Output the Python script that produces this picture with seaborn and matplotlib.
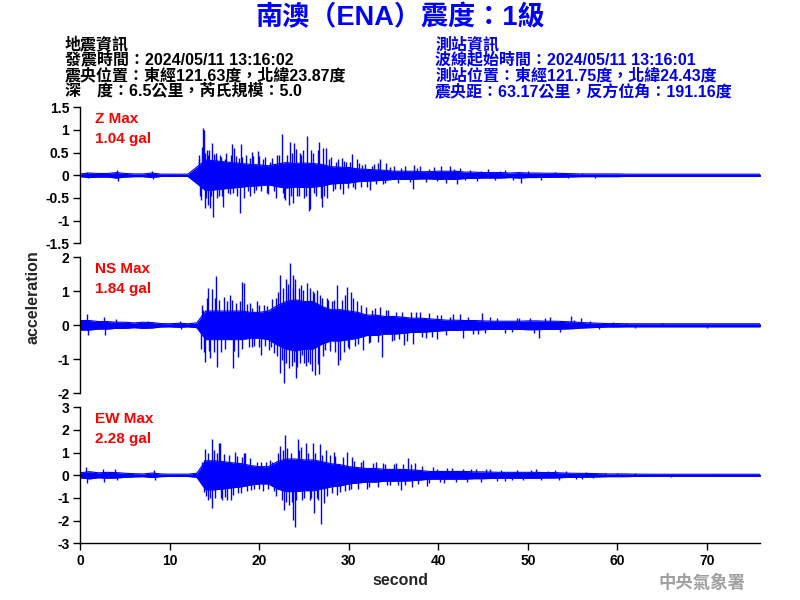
import matplotlib.pyplot as plt
import numpy as np
import seaborn as sns

BLUE = "#0000FF"

# time grid (s) for the dense part of each trace
SECONDS = np.arange(0, 77)

# Z component: dense-band half width per second, big peaks and minor peaks (s, gal)
Z_BODY = [0.03, 0.05, 0.04, 0.04, 0.06, 0.04, 0.03, 0.03, 0.05, 0.025,
          0.025, 0.025, 0.025, 0.18, 0.34, 0.32, 0.30, 0.28, 0.26, 0.24,
          0.23, 0.21, 0.25, 0.28, 0.26, 0.27, 0.26, 0.24, 0.19, 0.18,
          0.17, 0.14, 0.13, 0.12, 0.11, 0.09, 0.09, 0.09, 0.08, 0.08,
          0.09, 0.09, 0.09, 0.07, 0.07, 0.06, 0.06, 0.06, 0.05, 0.06,
          0.05, 0.05, 0.045, 0.045, 0.04, 0.035, 0.03, 0.03, 0.03, 0.03,
          0.03, 0.025, 0.025, 0.025, 0.025, 0.025, 0.025, 0.025, 0.025, 0.025,
          0.025, 0.025, 0.025, 0.025, 0.025, 0.025, 0.025]
Z_PEAK_T = [0.7, 0.8, 4.1, 4.2, 8.0, 8.1,
            13.3, 13.5, 13.6, 13.73, 13.85, 13.9, 14.1, 14.2, 14.4, 14.5, 14.7, 14.86,
            15.1, 15.3, 15.6, 15.97, 16.3, 16.5, 16.98, 17.2, 17.5, 17.84, 17.9, 18.3,
            18.5, 18.9, 19.15, 19.4, 19.8, 20.2, 20.6, 21.0, 21.4, 21.8, 22.0, 22.5,
            22.6, 22.9, 23.25, 23.4, 23.6, 23.8, 23.9, 24.1, 24.4, 24.7, 25.0, 25.37,
            25.5, 25.7, 26.0, 26.3, 26.7, 26.97, 27.1, 27.4, 27.6, 28.0, 28.4, 28.8,
            29.2, 29.3, 29.7, 30.3, 30.5, 30.9, 31.3, 31.8, 32.4, 32.8, 33.5, 33.8,
            34.2, 35.0, 35.5, 36.3, 37.2, 37.3, 38.0, 38.6, 39.5, 40.3, 40.8, 41.3,
            42.1, 42.4, 43.5, 44.3, 45.5, 46.3, 47.5, 49.2, 50.0, 51.5, 53.0, 54.5,
            56.0, 57.5]
Z_PEAK_V = [0.08, -0.07, 0.12, -0.12, 0.10, -0.08,
            0.45, -0.55, 0.62, 1.04, 1.00, -0.73, 0.55, -0.65, 0.55, -0.72, 0.71, -0.91,
            0.50, -0.50, 0.45, -0.71, 0.50, -0.40, 0.70, 0.60, -0.45, -0.83, 0.68, -0.50,
            0.45, -0.45, 0.51, -0.40, 0.54, -0.35, 0.40, -0.42, 0.38, -0.50, 0.45, 0.92,
            -0.38, -0.55, -0.66, 0.73, 0.50, -0.62, 0.71, 0.57, -0.45, 0.45, -0.50, 0.86,
            -0.78, -0.75, 0.50, -0.45, 0.73, -0.69, 0.60, 0.60, -0.51, 0.40, -0.30, 0.35,
            0.38, -0.41, 0.30, 0.48, -0.25, 0.35, -0.25, 0.25, -0.32, 0.25, 0.37, -0.20,
            0.27, 0.20, -0.18, 0.20, -0.31, 0.22, 0.20, -0.15, 0.18, 0.20, -0.18, 0.20,
            -0.20, 0.17, 0.12, -0.12, 0.13, -0.10, 0.12, -0.16, 0.10, -0.10, 0.08, -0.07,
            0.06, -0.05]
Z_MINOR_T = [13.2, 13.4, 13.95, 14.05, 14.3, 14.6, 14.95, 15.2, 15.45, 15.75,
             15.85, 16.1, 16.7, 16.85, 17.1, 17.35, 17.7, 18.1, 18.7, 19.0,
             19.3, 19.6, 20.0, 20.4, 20.8, 21.2, 21.6, 22.2, 22.75, 23.1,
             23.5, 24.2, 24.55, 24.9, 25.2, 25.8, 26.1, 26.5, 26.85, 27.25,
             27.8, 28.2, 28.6, 29.0, 29.5, 29.9, 30.1, 30.7, 31.1, 31.5,
             32.0, 32.6, 33.0, 33.2, 34.0, 34.6, 35.8, 36.8, 37.6, 39.0,
             39.8, 41.8, 43.0, 44.8, 46.9, 48.3]
Z_MINOR_V = [0.35, -0.45, 0.50, -0.50, 0.45, -0.45, 0.48, 0.42, -0.45, 0.40,
             -0.45, 0.35, -0.42, 0.45, -0.40, 0.42, 0.38, 0.40, -0.35, 0.38,
             0.42, -0.32, 0.42, 0.35, -0.38, 0.30, -0.35, 0.45, -0.50, 0.45,
             -0.45, -0.45, 0.50, 0.55, -0.45, 0.55, -0.40, 0.55, -0.50, -0.45,
             0.35, -0.35, 0.30, -0.30, 0.32, -0.28, 0.30, -0.30, 0.28, 0.22,
             -0.25, 0.20, -0.20, 0.28, -0.18, 0.18, 0.15, -0.15, 0.15, 0.14,
             -0.13, 0.13, -0.10, 0.10, 0.10, -0.10]

# NS component
NS_BODY = [0.14, 0.14, 0.11, 0.11, 0.09, 0.09, 0.07, 0.09, 0.08, 0.05,
           0.045, 0.06, 0.045, 0.07, 0.42, 0.42, 0.42, 0.42, 0.42, 0.38,
           0.38, 0.42, 0.58, 0.70, 0.75, 0.70, 0.70, 0.55, 0.46, 0.46,
           0.42, 0.38, 0.30, 0.30, 0.26, 0.26, 0.24, 0.21, 0.21, 0.19,
           0.17, 0.15, 0.15, 0.14, 0.14, 0.13, 0.12, 0.12, 0.12, 0.12,
           0.13, 0.13, 0.12, 0.12, 0.11, 0.10, 0.08, 0.07, 0.06, 0.05,
           0.05, 0.045, 0.045, 0.045, 0.045, 0.045, 0.045, 0.045, 0.045, 0.045,
           0.045, 0.045, 0.045, 0.045, 0.045, 0.045, 0.045]
NS_PEAK_T = [0.7, 0.8, 2.6, 2.7, 4.0, 7.5, 11.1, 11.2,
             13.5, 13.7, 13.93, 14.3, 14.5, 14.7, 15.2, 15.3, 16.0, 16.7, 17.0, 17.66,
             18.03, 18.3, 18.6, 19.15, 19.2, 19.7, 20.2, 20.8, 21.1, 21.4, 21.6, 22.06,
             22.25, 22.3, 22.5, 22.8, 22.95, 23.15, 23.3, 23.44, 23.8, 23.85, 24.0, 24.1,
             24.25, 24.64, 24.75, 25.0, 25.3, 25.4, 25.9, 26.0, 26.2, 26.4, 26.7, 26.95,
             27.3, 27.7, 28.3, 28.7, 28.8, 29.0, 29.8, 29.95, 30.2, 30.5, 30.9, 31.6,
             32.2, 32.6, 33.5, 33.7, 34.1, 35.0, 35.9, 36.2, 36.9, 37.2, 37.9, 38.6,
             39.8, 39.9, 41.6, 42.4, 42.8, 44.4, 44.9, 45.8, 47.5, 49.0, 51.3, 52.5,
             54.8, 55.9, 58.0, 61.0]
NS_PEAK_V = [0.33, -0.28, 0.25, -0.30, 0.18, 0.14, 0.12, -0.10,
             -0.70, 0.45, -1.07, 1.10, -0.97, 1.06, 1.45, -1.22, 0.84, 0.89, -1.26, -0.92,
             1.28, 1.25, 0.62, 0.50, -0.63, 0.70, -0.87, 0.57, -0.73, 0.76, -0.82, 0.99,
             -1.41, 1.48, -1.02, -1.69, 1.35, 0.94, -1.26, 1.84, 1.48, -1.07, 1.35, -1.56,
             -1.22, 1.19, -0.87, -1.12, 1.24, -1.07, -1.33, 1.02, -1.46, 1.04, -1.43, 0.79,
             -0.73, 0.75, 0.75, 1.19, -1.17, -1.02, 1.14, -0.63, 0.99, 0.79, 0.70, -0.73,
             -0.53, 0.45, 0.55, -0.92, 0.45, -0.43, 0.38, -0.58, 0.40, -0.56, 0.40, -0.38,
             -0.41, 0.30, 0.32, 0.32, -0.38, -0.25, 0.37, 0.25, -0.22, 0.22, -0.38, 0.25,
             0.27, 0.20, -0.12, 0.08]
NS_MINOR_T = [13.6, 13.8, 14.1, 14.4, 14.9, 15.0, 15.5, 15.7, 16.2, 16.4,
              16.9, 17.2, 17.4, 17.8, 18.1, 18.8, 19.0, 19.4, 19.9, 20.0,
              20.5, 20.6, 21.3, 21.8, 22.0, 22.6, 22.7, 23.0, 23.2, 23.6,
              23.7, 24.4, 24.5, 24.9, 25.15, 25.6, 25.7, 26.1, 26.55, 26.8,
              27.1, 27.5, 27.9, 28.1, 28.5, 29.2, 29.4, 29.6, 30.0, 30.7,
              31.0, 31.3, 31.9, 32.4, 32.9, 33.2, 34.4, 34.8, 35.3, 35.6,
              36.5, 37.5, 38.2, 38.9, 39.3, 40.3, 40.9, 41.3, 43.3, 43.9,
              45.2, 46.5, 48.2, 48.8, 50.2, 50.7, 51.9, 53.6, 55.2, 57.0,
              59.5, 62.0, 65.0, 70.0]
NS_MINOR_V = [0.60, -0.80, 0.80, -0.75, -0.80, 0.80, 0.75, -0.80, -0.70, 0.70,
              0.75, -0.75, 0.65, 0.70, -0.70, -0.65, 0.65, -0.60, 0.60, -0.65,
              0.60, -0.60, -0.65, 0.80, -0.90, 1.10, -1.15, -1.10, 1.20, -1.20,
              1.10, 1.10, -1.10, 1.05, -1.20, 1.10, -1.15, 0.95, -1.15, 0.90,
              -0.90, 0.80, -0.75, 0.70, -0.80, 0.75, -0.80, 0.90, -0.70, -0.60,
              -0.55, 0.60, 0.55, -0.50, 0.50, -0.50, 0.45, -0.45, 0.40, -0.40,
              -0.45, 0.38, -0.35, 0.35, -0.35, 0.30, -0.30, 0.25, 0.25, -0.25,
              -0.22, 0.22, -0.20, 0.22, 0.22, -0.22, 0.20, -0.20, 0.15, 0.12,
              0.10, -0.08, 0.08, -0.07]

# EW component
EW_BODY = [0.11, 0.16, 0.11, 0.13, 0.12, 0.09, 0.07, 0.06, 0.10, 0.06,
           0.05, 0.05, 0.05, 0.09, 0.64, 0.64, 0.60, 0.55, 0.51, 0.43,
           0.38, 0.38, 0.60, 0.72, 0.72, 0.68, 0.68, 0.60, 0.51, 0.47,
           0.38, 0.34, 0.30, 0.30, 0.26, 0.26, 0.26, 0.24, 0.21, 0.17,
           0.17, 0.17, 0.17, 0.17, 0.15, 0.15, 0.14, 0.13, 0.13, 0.13,
           0.13, 0.13, 0.12, 0.12, 0.10, 0.09, 0.085, 0.08, 0.07, 0.06,
           0.06, 0.06, 0.05, 0.05, 0.045, 0.045, 0.045, 0.045, 0.045, 0.045,
           0.045, 0.045, 0.045, 0.045, 0.045, 0.045, 0.045]
EW_PEAK_T = [0.6, 0.7, 2.5, 2.6, 3.9, 4.1, 8.2, 8.3,
             13.75, 13.8, 13.93, 14.3, 14.7, 14.75, 15.5, 15.6, 15.8, 16.35, 16.8, 17.3,
             17.6, 18.3, 18.4, 19.1, 19.7, 20.4, 21.2, 21.6, 22.3, 22.5, 22.8, 22.9,
             23.1, 23.3, 23.8, 23.93, 24.3, 24.6, 25.0, 25.2, 25.6, 26.0, 26.06, 26.4,
             26.8, 26.9, 27.2, 27.4, 28.3, 28.7, 29.8, 30.0, 30.4, 31.6, 32.0, 32.7,
             33.0, 33.8, 34.6, 35.3, 35.8, 36.6, 37.1, 37.4, 38.7, 39.9, 41.0, 40.6,
             43.7, 45.8, 47.5, 50.9, 53.0, 56.0, 60.0]
EW_PEAK_V = [0.38, -0.35, 0.28, -0.28, 0.28, -0.20, 0.24, -0.20,
             0.68, -0.72, 1.15, -1.09, -1.46, 1.59, 1.41, 1.44, -1.09, -1.09, -1.09, 1.04,
             -0.80, 1.00, 0.97, -0.65, 0.60, -0.68, 0.68, -0.70, 1.29, -1.09, -1.53, 1.78,
             1.19, -1.31, -1.97, -2.28, 1.59, 1.26, -1.01, 1.41, -1.09, 1.44, -1.68, -1.01,
             1.37, -2.15, -1.24, 1.12, 1.04, -0.87, 1.04, -0.65, 0.82, 0.68, -0.62, 0.53,
             0.60, 0.56, -0.43, 0.56, -0.65, 0.75, -0.53, 0.53, -0.47, 0.26, 0.31, -0.35,
             0.28, 0.26, -0.25, 0.28, 0.24, -0.18, 0.12]
EW_MINOR_T = [13.6, 14.0, 14.2, 14.45, 14.9, 15.05, 15.3, 15.7, 16.0, 16.2,
              16.6, 17.0, 17.5, 17.9, 18.1, 18.6, 18.9, 19.4, 19.9, 20.2,
              20.7, 21.0, 21.4, 21.9, 22.1, 22.65, 23.0, 23.5, 23.6, 24.1,
              24.45, 24.8, 25.4, 25.8, 26.2, 26.6, 27.0, 27.6, 27.9, 28.1,
              28.5, 29.0, 29.3, 29.6, 30.2, 30.6, 31.0, 31.3, 32.3, 33.3,
              34.0, 34.3, 35.0, 35.5, 36.0, 36.3, 36.9, 37.7, 38.2, 38.9,
              39.4, 40.2, 41.5, 42.0, 42.7, 43.2, 44.2, 44.8, 45.3, 46.5,
              47.0, 48.2, 48.8, 49.5, 50.3, 51.5, 52.3, 53.5, 54.3, 55.4,
              56.5, 57.3, 58.6, 62.0, 66.0, 71.0]
EW_MINOR_V = [0.60, -0.90, 1.00, -1.00, 1.10, -1.00, 1.00, -1.00, 0.95, -0.95,
              0.90, -0.85, 0.85, -0.80, 0.80, -0.70, 0.75, -0.60, -0.60, 0.60,
              0.58, -0.60, 0.60, -0.90, 1.00, 1.10, -1.20, 1.00, -1.20, -1.10,
              1.10, -1.10, 1.00, -1.00, 1.00, -1.10, 0.90, -0.90, 0.90, -0.80,
              0.85, -0.75, 0.80, -0.70, -0.60, 0.65, -0.60, 0.60, -0.50, -0.50,
              0.50, -0.45, 0.50, -0.45, 0.50, -0.45, 0.50, -0.40, 0.40, -0.35,
              0.35, -0.30, 0.30, -0.28, 0.28, -0.30, 0.26, -0.28, 0.26, -0.24,
              0.22, -0.22, 0.22, -0.22, 0.22, -0.20, 0.20, -0.20, 0.18, -0.16,
              0.15, -0.14, 0.12, 0.10, -0.08, 0.07]

Y_TICKS = {
    "Z": ([-1.5, -1, -0.5, 0, 0.5, 1, 1.5], ["-1.5", "-1", "-0.5", "0", "0.5", "1", "1.5"]),
    "NS": ([-2, -1, 0, 1, 2], ["-2", "-1", "0", "1", "2"]),
    "EW": ([-3, -2, -1, 0, 1, 2, 3], ["-3", "-2", "-1", "0", "1", "2", "3"]),
}
X_TICKS = [0, 10, 20, 30, 40, 50, 60, 70]
MAX_LABELS = {"Z": "1.04 gal", "NS": "1.84 gal", "EW": "2.28 gal"}

LEFT_INFO = [
    "地震資訊",
    "發震時間：2024/05/11 13:16:02",
    "震央位置：東經121.63度，北緯23.87度",
    "深　度：6.5公里，芮氏規模：5.0",
]
RIGHT_INFO = [
    "測站資訊",
    "波線起始時間：2024/05/11 13:16:01",
    "測站位置：東經121.75度，北緯24.43度",
    "震央距：63.17公里，反方位角：191.16度",
]

sns.set_theme(style="ticks")
plt.rcParams["font.family"] = ["Liberation Sans", "Noto Sans CJK TC", "DejaVu Sans"]
plt.rcParams["font.weight"] = "bold"

fig = plt.figure(figsize=(8, 6), dpi=100)

panels = [
    ("Z", Z_BODY, Z_PEAK_T + Z_MINOR_T, Z_PEAK_V + Z_MINOR_V, 0.5945),
    ("NS", NS_BODY, NS_PEAK_T + NS_MINOR_T, NS_PEAK_V + NS_MINOR_V, 0.3445),
    ("EW", EW_BODY, EW_PEAK_T + EW_MINOR_T, EW_PEAK_V + EW_MINOR_V, 0.0945),
]

for name, body, peak_t, peak_v, bottom in panels:
    ax = fig.add_axes([0.1006, bottom, 0.85, 0.2267])
    body = np.array(body)
    ax.fill_between(SECONDS, -body, body, color=BLUE, lw=0)
    sns.lineplot(x=SECONDS, y=body, ax=ax, color=BLUE, lw=0.8)
    sns.lineplot(x=SECONDS, y=-body, ax=ax, color=BLUE, lw=0.8)
    ax.vlines(peak_t, 0, peak_v, color=BLUE, lw=1.0)

    ticks, labels = Y_TICKS[name]
    ax.set_xlim(0, 76)
    ax.set_ylim(ticks[0], ticks[-1])
    ax.set_yticks(ticks)
    ax.set_yticklabels(labels)
    ax.set_ylabel("")
    ax.tick_params(axis="y", direction="out", length=5, width=1, pad=3,
                   labelsize=10, colors="black")
    sns.despine(ax=ax, top=True, right=True, bottom=(name != "EW"))
    ax.spines["left"].set_linewidth(1)
    ax.spines["left"].set_color("black")
    if name == "EW":
        ax.set_xticks(X_TICKS)
        ax.set_xticklabels([str(v) for v in X_TICKS])
        ax.tick_params(axis="x", direction="out", length=5, width=1, pad=3,
                       labelsize=10, colors="black")
        ax.spines["bottom"].set_linewidth(1)
        ax.spines["bottom"].set_color("black")
    else:
        ax.set_xticks([])

    ax.text(0.0213, 0.887, f"{name} Max", transform=ax.transAxes, color="red",
            fontsize=11, fontweight="bold", va="baseline", ha="left")
    ax.text(0.0213, 0.740, MAX_LABELS[name], transform=ax.transAxes, color="red",
            fontsize=11, fontweight="bold", va="baseline", ha="left")

fig.text(0.5, 0.97, "南澳（ENA）震度：1級", color=BLUE, fontsize=19.5,
         fontweight="bold", ha="center", va="center")

line_y = [0.9267, 0.9008, 0.8742, 0.8483]
for text, y in zip(LEFT_INFO, line_y):
    fig.text(0.081, y, text, color="black", fontsize=11.5, fontweight="bold",
             ha="left", va="center")
for text, y in zip(RIGHT_INFO, line_y):
    fig.text(0.544, y, text, color="#0000EE", fontsize=11.5, fontweight="bold",
             ha="left", va="center")

fig.text(0.041, 0.504, "acceleration", rotation=90, fontsize=11.5,
         fontweight="bold", ha="center", va="center")
fig.text(0.5, 0.033, "second", fontsize=11.5, fontweight="bold",
         ha="center", va="center")
fig.text(0.877, 0.030, "中央氣象署", color="#A0A0A0", fontsize=12.5,
         fontweight="bold", ha="center", va="center")

fig.savefig("out.png", dpi=100)
